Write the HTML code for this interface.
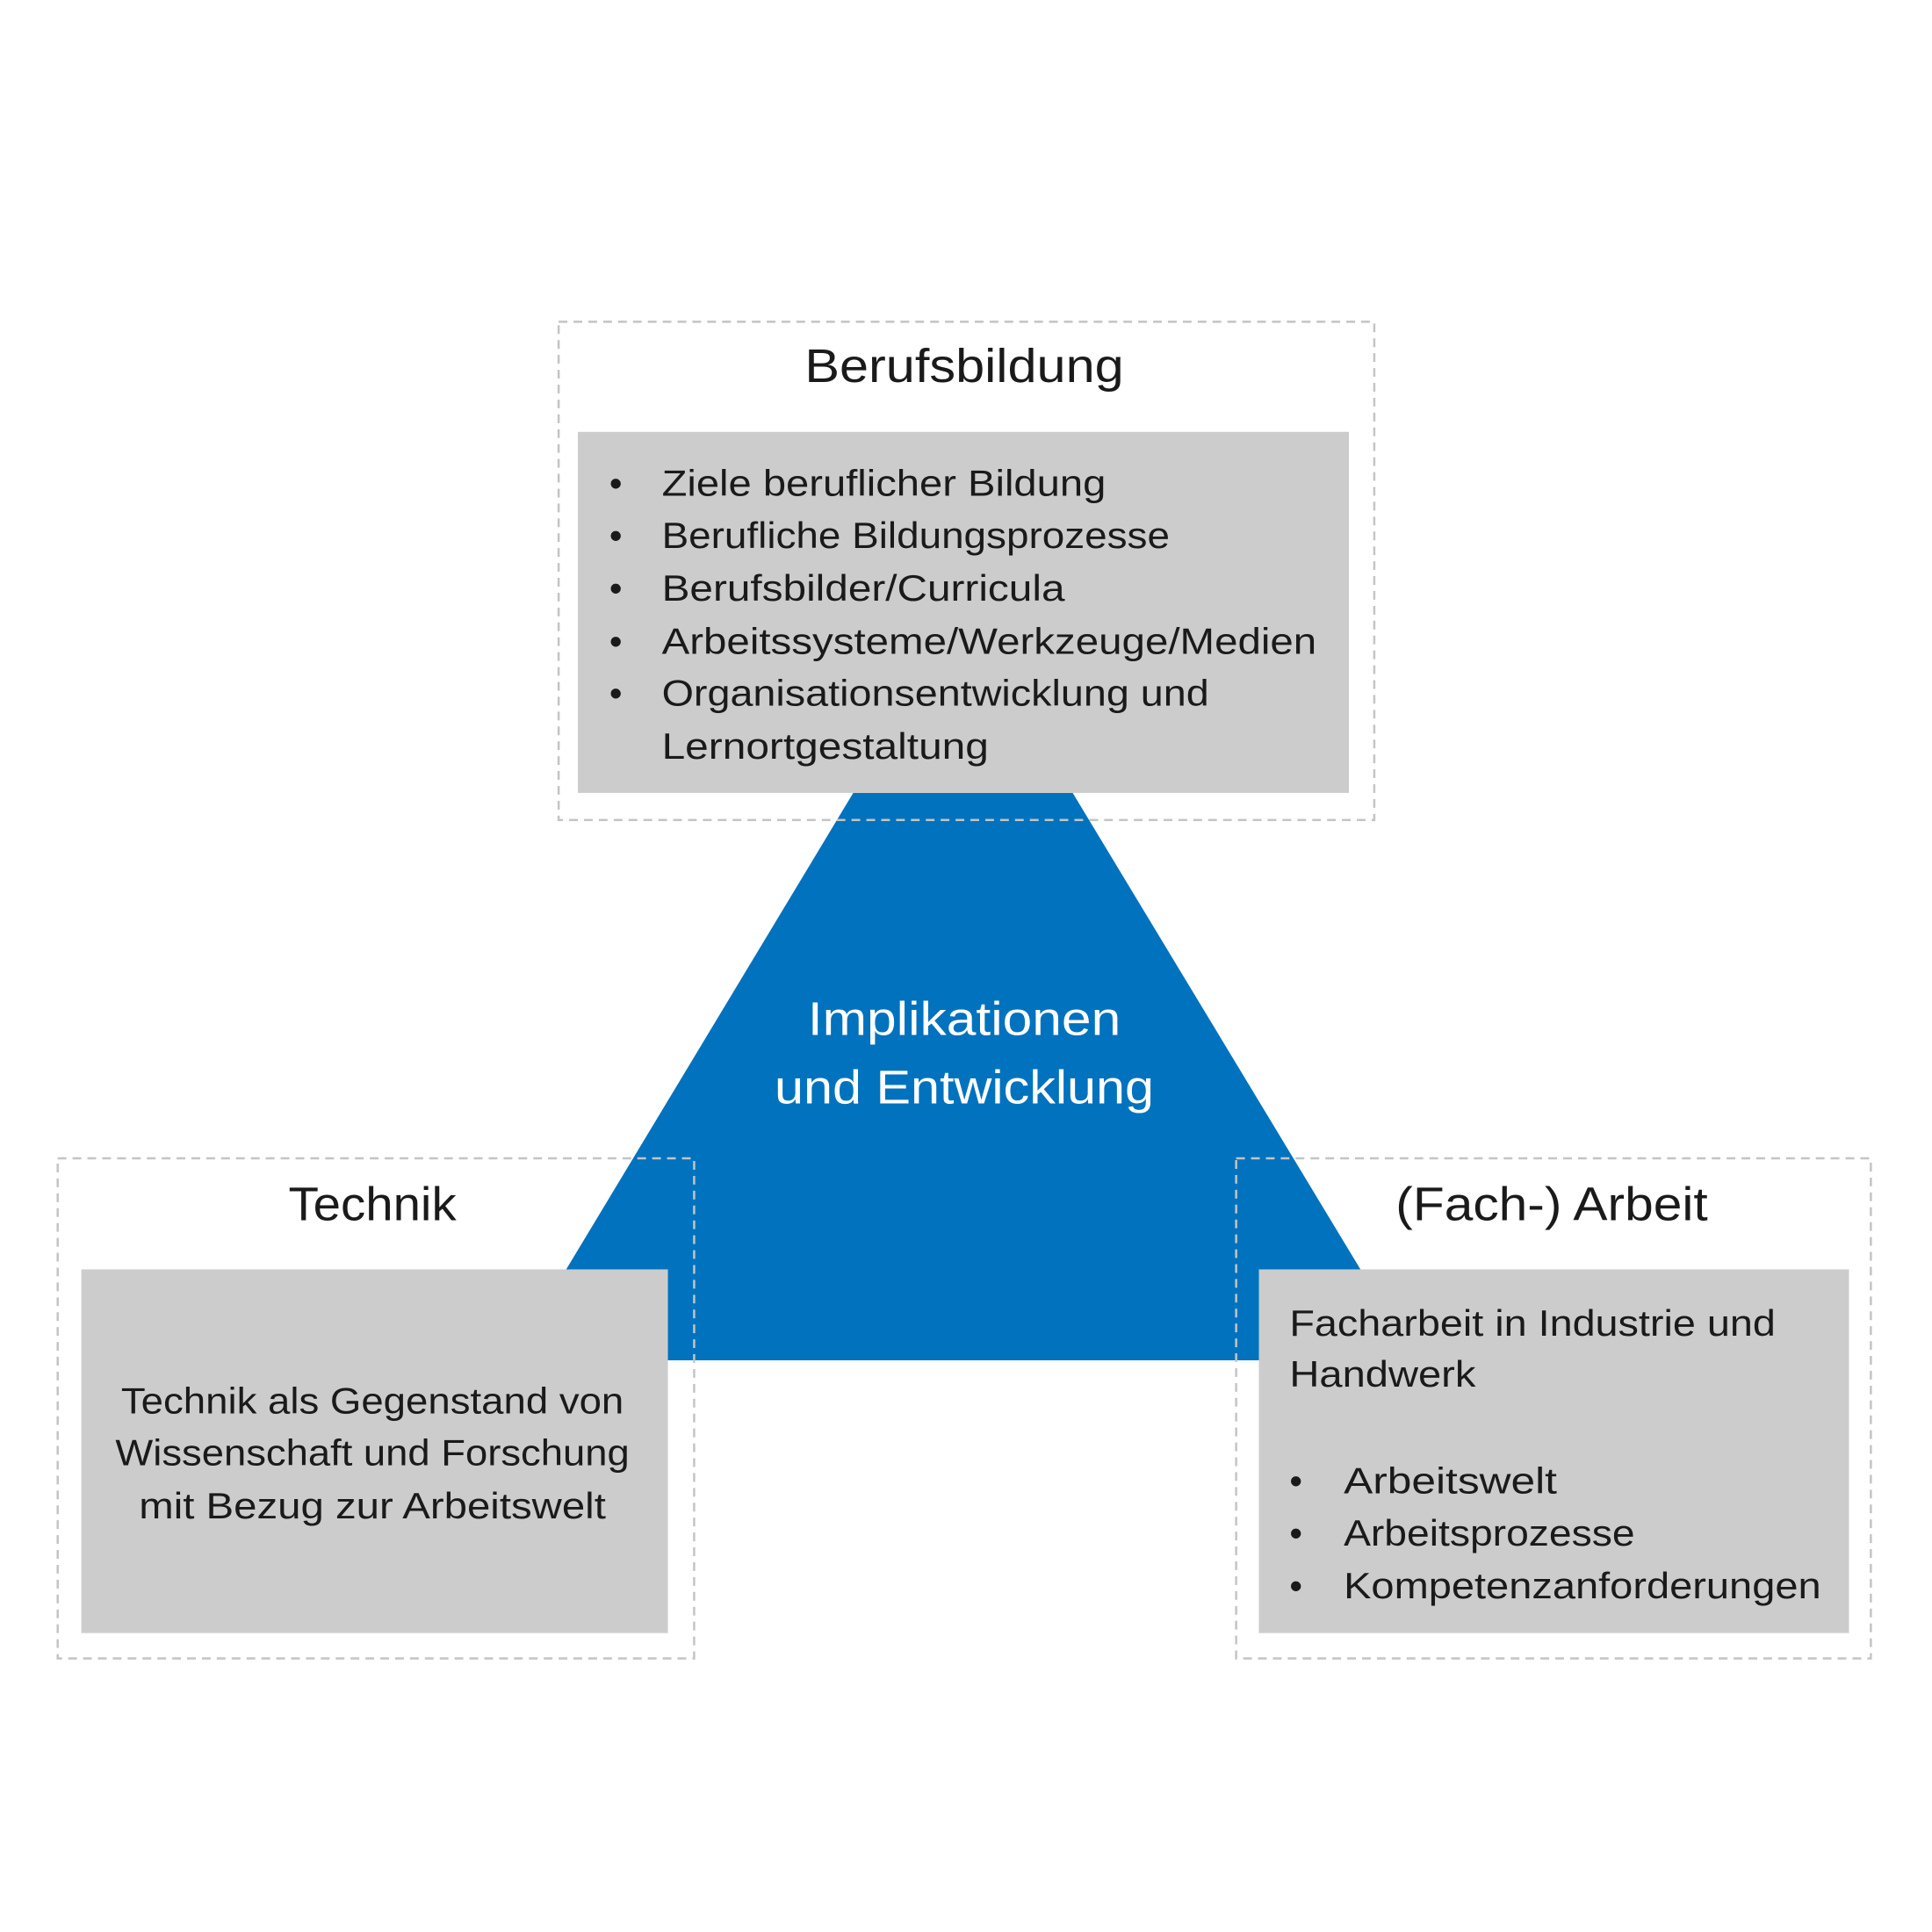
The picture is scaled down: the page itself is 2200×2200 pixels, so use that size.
<!DOCTYPE html>
<html><head><meta charset="utf-8"><style>html,body{margin:0;padding:0;background:#fff}svg{display:block}</style></head>
<body>
<svg width="2200" height="2200" viewBox="0 0 2200 2200" xmlns="http://www.w3.org/2000/svg" font-family="Liberation Sans, sans-serif">
<rect width="2200" height="2200" fill="#fff"/>
<g transform="scale(0.9955)">
<polygon points="976,907 1227,907 1619,1556 585,1556" fill="#0072BE"/>
<rect x="661" y="494" width="882" height="413" fill="#cccccc"/>
<rect x="93" y="1452" width="671" height="416" fill="#cccccc"/>
<rect x="1440" y="1452" width="675" height="416" fill="#cccccc"/>
<g fill="none" stroke="#c4c4c4" stroke-width="2.5" stroke-dasharray="10,7">
<rect x="639" y="368" width="933" height="570"/>
<rect x="66" y="1325" width="728" height="572"/>
<rect x="1414" y="1325" width="726" height="572"/>
</g>
<g fill="#1a1a1a">
<text x="1103" y="437" font-size="54" text-anchor="middle" textLength="365" lengthAdjust="spacingAndGlyphs">Berufsbildung</text>
<g font-size="42">
<text x="697" y="567">•</text><text x="757" y="567" textLength="508" lengthAdjust="spacingAndGlyphs">Ziele beruflicher Bildung</text>
<text x="697" y="627">•</text><text x="757" y="627" textLength="581" lengthAdjust="spacingAndGlyphs">Berufliche Bildungsprozesse</text>
<text x="697" y="687">•</text><text x="757" y="687" textLength="461" lengthAdjust="spacingAndGlyphs">Berufsbilder/Curricula</text>
<text x="697" y="748">•</text><text x="757" y="748" textLength="749" lengthAdjust="spacingAndGlyphs">Arbeitssysteme/Werkzeuge/Medien</text>
<text x="697" y="807">•</text><text x="757" y="807" textLength="626" lengthAdjust="spacingAndGlyphs">Organisationsentwicklung und</text>
<text x="757" y="868" textLength="374" lengthAdjust="spacingAndGlyphs">Lernortgestaltung</text>
</g>
<text x="426" y="1396" font-size="54" text-anchor="middle" textLength="192" lengthAdjust="spacingAndGlyphs">Technik</text>
<text x="1775" y="1396" font-size="54" text-anchor="middle" textLength="357" lengthAdjust="spacingAndGlyphs">(Fach-) Arbeit</text>
<g font-size="42" text-anchor="middle">
<text x="426" y="1617" textLength="575" lengthAdjust="spacingAndGlyphs">Technik als Gegenstand von</text>
<text x="426" y="1676" textLength="588" lengthAdjust="spacingAndGlyphs">Wissenschaft und Forschung</text>
<text x="426" y="1737" textLength="534" lengthAdjust="spacingAndGlyphs">mit Bezug zur Arbeitswelt</text>
</g>
<g font-size="42">
<text x="1475" y="1528" textLength="556" lengthAdjust="spacingAndGlyphs">Facharbeit in Industrie und</text>
<text x="1475" y="1586" textLength="213" lengthAdjust="spacingAndGlyphs">Handwerk</text>
<text x="1475" y="1708">•</text><text x="1537" y="1708" textLength="244" lengthAdjust="spacingAndGlyphs">Arbeitswelt</text>
<text x="1475" y="1768">•</text><text x="1537" y="1768" textLength="333" lengthAdjust="spacingAndGlyphs">Arbeitsprozesse</text>
<text x="1475" y="1828">•</text><text x="1537" y="1828" textLength="546" lengthAdjust="spacingAndGlyphs">Kompetenzanforderungen</text>
</g>
</g>
<g fill="#ffffff" font-size="54" text-anchor="middle">
<text x="1103" y="1184" textLength="358" lengthAdjust="spacingAndGlyphs">Implikationen</text>
<text x="1103" y="1262" textLength="434" lengthAdjust="spacingAndGlyphs">und Entwicklung</text>
</g>
</g>
</svg>
</body></html>
